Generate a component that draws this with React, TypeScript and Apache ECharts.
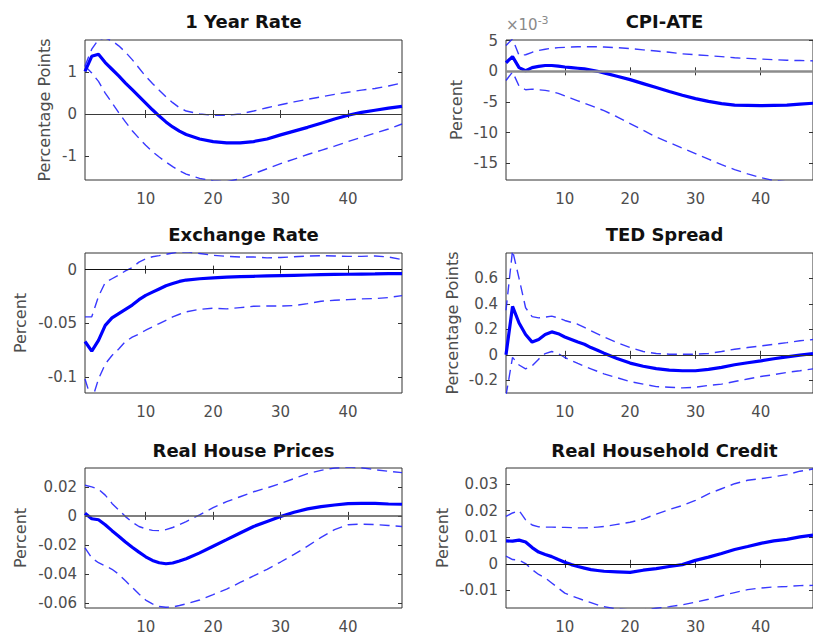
import React, { useEffect, useRef } from "react";
import * as echarts from "echarts";

const steps = [1, 2, 3, 4, 5, 6, 7, 8, 9, 10, 11, 12, 13, 14, 15, 16, 18, 20, 22, 24, 26, 28, 30, 32, 34, 36, 38, 40, 42, 44, 46, 48];

const rateMid = [1.02, 1.38, 1.43, 1.23, 1.07, 0.91, 0.74, 0.58, 0.42, 0.26, 0.1, -0.05, -0.19, -0.31, -0.41, -0.49, -0.6, -0.66, -0.69, -0.69, -0.66, -0.6, -0.5, -0.41, -0.32, -0.22, -0.12, -0.03, 0.04, 0.09, 0.14, 0.18];
const rateHi = [1.15, 1.55, 1.78, 1.82, 1.75, 1.63, 1.48, 1.3, 1.1, 0.9, 0.73, 0.57, 0.41, 0.27, 0.15, 0.07, 0.0, -0.03, -0.03, 0.0, 0.07, 0.15, 0.22, 0.29, 0.35, 0.41, 0.47, 0.52, 0.57, 0.61, 0.67, 0.74];
const rateLo = [1.15, 0.98, 0.78, 0.5, 0.27, 0.03, -0.19, -0.4, -0.58, -0.75, -0.9, -1.03, -1.15, -1.26, -1.36, -1.44, -1.54, -1.6, -1.62, -1.55, -1.43, -1.31, -1.19, -1.08, -0.97, -0.87, -0.77, -0.66, -0.56, -0.46, -0.36, -0.24];

// CPI-ATE in units of 10^-3
const cpiMid = [1.4, 2.4, 0.6, 0.1, 0.6, 0.8, 0.95, 0.95, 0.85, 0.7, 0.6, 0.5, 0.4, 0.2, 0.0, -0.25, -0.8, -1.35, -2.0, -2.65, -3.3, -3.9, -4.45, -4.9, -5.25, -5.5, -5.55, -5.6, -5.55, -5.5, -5.35, -5.2];
const cpiHi = [4.2, 5.3, 2.6, 2.7, 3.1, 3.4, 3.6, 3.75, 3.85, 3.9, 3.95, 4.0, 4.0, 4.0, 4.0, 3.95, 3.85, 3.7, 3.5, 3.3, 3.1, 2.85, 2.7, 2.55, 2.4, 2.2, 2.1, 2.0, 1.9, 1.8, 1.75, 1.7];
const cpiLo = [-1.5, -0.1, -2.4, -3.0, -2.9, -3.0, -3.1, -3.3, -3.6, -4.0, -4.4, -4.8, -5.2, -5.6, -6.0, -6.4, -7.4, -8.5, -9.6, -10.7, -11.6, -12.5, -13.4, -14.3, -15.2, -16.0, -16.7, -17.3, -17.8, -18.0, -18.0, -18.0];

const fxMid = [-0.067, -0.076, -0.066, -0.052, -0.045, -0.041, -0.037, -0.033, -0.028, -0.024, -0.021, -0.018, -0.015, -0.013, -0.011, -0.0097, -0.0085, -0.0076, -0.007, -0.0066, -0.0062, -0.0059, -0.0056, -0.0053, -0.005, -0.0047, -0.0044, -0.0043, -0.0041, -0.004, -0.0038, -0.0037];
const fxHi = [-0.044, -0.044, -0.025, -0.012, -0.0085, -0.005, -0.0012, 0.002, 0.007, 0.01, 0.012, 0.013, 0.0143, 0.0155, 0.0165, 0.0165, 0.015, 0.0134, 0.0124, 0.0118, 0.0118, 0.011, 0.0113, 0.012, 0.0127, 0.013, 0.0127, 0.0124, 0.0124, 0.0127, 0.0118, 0.0093];
const fxLo = [-0.102, -0.122, -0.102, -0.088, -0.08, -0.074, -0.067, -0.063, -0.06, -0.0565, -0.0534, -0.0503, -0.0472, -0.0441, -0.0416, -0.0394, -0.037, -0.036, -0.0366, -0.0354, -0.0342, -0.0339, -0.034, -0.0335, -0.0317, -0.0295, -0.0286, -0.028, -0.0273, -0.027, -0.026, -0.0242];

const tedMid = [0, 0.38, 0.25, 0.16, 0.1, 0.12, 0.16, 0.18, 0.166, 0.14, 0.12, 0.1, 0.083, 0.057, 0.036, 0.013, -0.029, -0.065, -0.09, -0.109, -0.12, -0.125, -0.125, -0.114, -0.099, -0.078, -0.062, -0.047, -0.031, -0.016, -0.003, 0.01];
const tedHi = [0.35, 0.82, 0.6, 0.37, 0.3, 0.29, 0.296, 0.304, 0.29, 0.27, 0.255, 0.24, 0.215, 0.19, 0.165, 0.14, 0.096, 0.057, 0.026, 0.01, 0.005, 0.004, 0.005, 0.01, 0.026, 0.044, 0.057, 0.07, 0.083, 0.096, 0.11, 0.12];
const tedLo = [-0.32, -0.02, -0.08, -0.11, -0.086, -0.034, 0.01, 0.026, 0.01, -0.021, -0.045, -0.068, -0.09, -0.11, -0.13, -0.15, -0.18, -0.21, -0.23, -0.25, -0.255, -0.26, -0.255, -0.24, -0.23, -0.21, -0.19, -0.17, -0.156, -0.138, -0.125, -0.11];

const houseMid = [0.0018, -0.002, -0.0027, -0.0061, -0.0102, -0.014, -0.018, -0.0216, -0.025, -0.0282, -0.0307, -0.0323, -0.033, -0.0325, -0.0311, -0.0295, -0.0255, -0.0209, -0.0164, -0.0118, -0.0073, -0.0039, -0.0005, 0.0025, 0.0048, 0.0064, 0.0075, 0.0084, 0.0086, 0.0086, 0.0082, 0.008];
const houseHi = [0.0211, 0.02, 0.0184, 0.0143, 0.0086, 0.0041, -0.0005, -0.0043, -0.0073, -0.0089, -0.01, -0.0102, -0.0095, -0.008, -0.0061, -0.0039, 0.0007, 0.0057, 0.0098, 0.0132, 0.0166, 0.0193, 0.0223, 0.0257, 0.0291, 0.0314, 0.033, 0.0336, 0.0332, 0.0318, 0.0307, 0.0298];
const houseLo = [-0.022, -0.029, -0.0323, -0.0345, -0.0368, -0.0402, -0.0448, -0.0493, -0.0539, -0.058, -0.0607, -0.0625, -0.063, -0.0628, -0.0618, -0.0607, -0.058, -0.0543, -0.0505, -0.0459, -0.0414, -0.0368, -0.0318, -0.0266, -0.0209, -0.0148, -0.0095, -0.0061, -0.0057, -0.006, -0.0066, -0.0073];

const creditMid = [0.0086, 0.0085, 0.0089, 0.0082, 0.0061, 0.0044, 0.0035, 0.0027, 0.0016, 0.0006, -0.0003, -0.001, -0.0016, -0.0022, -0.0025, -0.0028, -0.003, -0.0032, -0.0024, -0.0018, -0.001, -0.0003, 0.0013, 0.0025, 0.0039, 0.0054, 0.0065, 0.0077, 0.0086, 0.0092, 0.0101, 0.0108];
const creditHi = [0.0178, 0.0191, 0.02, 0.0165, 0.0146, 0.0139, 0.0138, 0.0138, 0.0137, 0.0137, 0.0136, 0.0135, 0.0135, 0.0136, 0.0138, 0.014, 0.0148, 0.0156, 0.0168, 0.0187, 0.0204, 0.0219, 0.0238, 0.0263, 0.0282, 0.0301, 0.0314, 0.032, 0.0327, 0.0335, 0.0348, 0.0356];
const creditLo = [0.0029, 0.0016, 0.0014, 0.0001, -0.0022, -0.004, -0.0053, -0.0072, -0.0091, -0.011, -0.012, -0.0129, -0.0138, -0.0146, -0.0154, -0.0161, -0.017, -0.0173, -0.0173, -0.0167, -0.0161, -0.0154, -0.0144, -0.0133, -0.012, -0.0108, -0.0097, -0.0091, -0.0087, -0.0085, -0.0082, -0.0081];

const titles = ["1 Year Rate", "CPI-ATE", "Exchange Rate", "TED Spread", "Real House Prices", "Real Household Credit"];
const units = ["Percentage Points", "Percent", "Percent", "Percentage Points", "Percent", "Percent"];
const xTicks = [10, 20, 30, 40];
const yTicks = [
    [-1, 0, 1],
    [-15, -10, -5, 0, 5],
    [-0.1, -0.05, 0],
    [-0.2, 0, 0.2, 0.4, 0.6],
    [-0.06, -0.04, -0.02, 0, 0.02],
    [-0.01, 0, 0.01, 0.02, 0.03],
];
const yRanges = [
    [-1.58, 1.77],
    [-17.7, 5.1],
    [-0.115, 0.0155],
    [-0.3, 0.8],
    [-0.0635, 0.033],
    [-0.0166, 0.036],
];
const series = [
    [rateMid, rateHi, rateLo],
    [cpiMid, cpiHi, cpiLo],
    [fxMid, fxHi, fxLo],
    [tedMid, tedHi, tedLo],
    [houseMid, houseHi, houseLo],
    [creditMid, creditHi, creditLo],
];

// layout of the six axes boxes (px)
const boxLeft = [85, 506, 85, 506, 85, 506];
const boxTop = [40, 40, 253, 253, 468, 468];
const boxW = 317;
const boxH = 140;
const titleY = [21, 21, 234, 234, 450, 450];
const unitX = [44, 456, 20, 452, 20, 442];
const zeroColor = ["#3a3a3a", "#8c8c8c", "#111111", "#333333", "#555555", "#111111"];
const zeroWidth = [1.2, 2.5, 1, 1.2, 1.5, 1];

const TICK_FONT = '"DejaVu Sans", sans-serif';
const LABEL_GREY = "#4d4d4d";

const App: React.FC = () => {
    const chartRef = useRef<HTMLDivElement>(null);

    useEffect(() => {
        if (!chartRef.current) return;
        const chart = echarts.init(chartRef.current, undefined, { renderer: "svg" });

        const grids: any[] = [];
        const xAxes: any[] = [];
        const yAxes: any[] = [];
        const allSeries: any[] = [];
        const elements: any[] = [];

        titles.forEach((title, i) => {
            grids.push({
                left: boxLeft[i],
                top: boxTop[i],
                width: boxW,
                height: boxH,
                show: true,
                borderColor: "#333333",
                borderWidth: 1,
                backgroundColor: "#ffffff",
            });
            const xBase = {
                type: "value",
                gridIndex: i,
                min: 1,
                max: 48,
                axisLine: { show: false },
                splitLine: { show: false },
                axisTick: { inside: true, length: 4, customValues: xTicks, lineStyle: { color: "#333333" } },
            };
            xAxes.push({
                ...xBase,
                position: "bottom",
                axisLabel: {
                    customValues: xTicks,
                    color: LABEL_GREY,
                    fontFamily: TICK_FONT,
                    fontSize: 15,
                    margin: 11,
                },
            });
            xAxes.push({ ...xBase, position: "top", axisLabel: { show: false } });

            const yBase = {
                type: "value",
                gridIndex: i,
                min: yRanges[i][0],
                max: yRanges[i][1],
                axisLine: { show: false },
                splitLine: { show: false },
                axisTick: { inside: true, length: 4, customValues: yTicks[i], lineStyle: { color: "#333333" } },
            };
            yAxes.push({
                ...yBase,
                position: "left",
                axisLabel: {
                    customValues: yTicks[i],
                    color: LABEL_GREY,
                    fontFamily: TICK_FONT,
                    fontSize: 15,
                    margin: 8,
                    formatter: (v: number) => String(v),
                },
            });
            yAxes.push({ ...yBase, position: "right", axisLabel: { show: false } });

            const [mid, hi, lo] = series[i];
            const pts = (arr: number[]) => arr.map((v, k) => [steps[k], v]);
            const dashed = {
                type: "line",
                xAxisIndex: 2 * i,
                yAxisIndex: 2 * i,
                showSymbol: false,
                symbol: "none",
                silent: true,
                lineStyle: { color: "#2424ff", width: 1.4, type: [10, 6], opacity: 0.9 },
            };
            allSeries.push({
                ...dashed,
                data: pts(hi),
                markLine: {
                    silent: true,
                    symbol: ["none", "none"],
                    label: { show: false },
                    lineStyle: { color: zeroColor[i], width: zeroWidth[i], type: "solid" },
                    data: [{ yAxis: 0 }],
                },
            });
            allSeries.push({ ...dashed, data: pts(lo) });
            allSeries.push({
                type: "line",
                xAxisIndex: 2 * i,
                yAxisIndex: 2 * i,
                showSymbol: false,
                symbol: "none",
                silent: true,
                data: pts(mid),
                lineStyle: { color: "#0000ff", width: 3.2 },
                z: 3,
            });

            elements.push({
                type: "text",
                x: boxLeft[i] + boxW / 2,
                y: titleY[i],
                style: {
                    text: title,
                    fill: "#111111",
                    font: 'bold 18px "DejaVu Sans", sans-serif',
                    textAlign: "center",
                    textVerticalAlign: "middle",
                },
            });
            elements.push({
                type: "text",
                x: unitX[i],
                y: boxTop[i] + boxH / 2,
                rotation: Math.PI / 2,
                style: {
                    text: units[i],
                    fill: LABEL_GREY,
                    font: '16px "DejaVu Sans", sans-serif',
                    textAlign: "center",
                    textVerticalAlign: "middle",
                },
            });
        });

        // exponent marker of the CPI-ATE axis
        elements.push({
            type: "text",
            x: 506,
            y: 35,
            style: {
                text: "{a|×10}{b|-3}",
                textVerticalAlign: "bottom",
                rich: {
                    a: { fontSize: 15, fontFamily: TICK_FONT, fill: "#8a8a8a", color: "#8a8a8a" },
                    b: { fontSize: 11, fontFamily: TICK_FONT, fill: "#8a8a8a", color: "#8a8a8a", verticalAlign: "top", padding: [0, 0, 9, 0] },
                },
            },
        });

        chart.setOption({
            animation: false,
            backgroundColor: "#ffffff",
            grid: grids,
            xAxis: xAxes,
            yAxis: yAxes,
            series: allSeries,
            graphic: { elements },
        });

        return () => {
            chart.dispose();
        };
    }, []);

    return (
        <div style={{ position: "fixed", left: 0, top: 0, width: 813, height: 636, overflow: "hidden", background: "#fff" }}>
            <div ref={chartRef} style={{ width: 813, height: 636 }} />
        </div>
    );
};

export default App;
